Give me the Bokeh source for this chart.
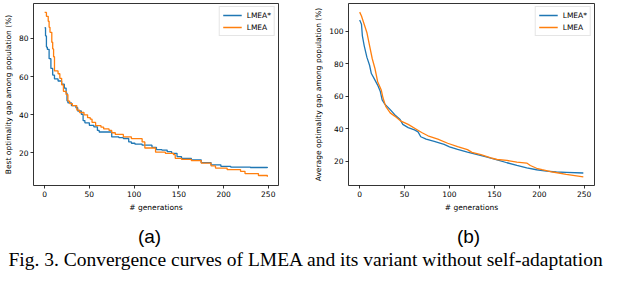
from bokeh.plotting import figure
from bokeh.layouts import column, row
from bokeh.models import Range1d, FixedTicker, Label
from bokeh.embed import file_html
from bokeh.resources import INLINE

# ---------------- data ----------------
series_names = ["LMEA*", "LMEA"]

# (a) best optimality gap (step curves)
gen_a_star = [0, 1, 2, 3, 5, 7, 9, 11, 15, 19, 22, 24, 25, 26, 30, 35, 37, 41, 43, 45,
              50, 55, 59, 61, 75, 83, 88, 94, 97, 101, 109, 120, 125, 131, 137, 142,
              148, 153, 164, 175, 186, 197, 208, 230, 249]
best_a_star = [85.6, 81.3, 75.5, 74.3, 69.4, 64.3, 60.8, 58.8, 57.7, 56.0, 54.0, 51.4,
               47.3, 46.3, 44.8, 43.7, 42.0, 40.3, 37.0, 35.8, 34.5, 33.7, 31.8, 31.0,
               28.4, 28.0, 27.6, 25.8, 25.1, 24.6, 24.1, 22.9, 21.8, 21.5, 20.7, 19.8,
               18.1, 17.2, 16.4, 15.0, 13.8, 13.0, 12.6, 12.4, 12.1]
gen_a_lmea = [0, 2, 4, 5, 6, 8, 9, 10, 11, 15, 17, 19, 21, 24, 26, 28, 31, 36, 39, 44,
              48, 51, 53, 57, 63, 66, 72, 75, 79, 88, 97, 109, 112, 124, 135, 144, 146,
              153, 164, 175, 186, 191, 204, 219, 224, 239, 249]
best_a_lmea = [93.6, 91.6, 89.0, 85.8, 83.2, 78.0, 74.5, 70.4, 63.0, 61.5, 59.1, 55.7,
               52.3, 50.6, 47.2, 45.9, 44.8, 42.5, 41.2, 40.0, 38.5, 37.7, 36.0, 34.3,
               33.5, 32.6, 31.8, 30.6, 29.7, 28.4, 27.5, 25.8, 22.6, 20.4, 19.8, 19.1,
               17.2, 16.7, 16.0, 14.7, 13.3, 12.1, 11.3, 10.4, 9.2, 8.2, 7.5]

# (b) average optimality gap
gen_b_star = [0, 2, 3, 5, 8, 11, 13, 16, 20, 23, 25, 28, 34, 39, 45, 48, 54, 61, 65, 68,
              74, 83, 94, 100, 109, 120, 131, 142, 153, 164, 175, 186, 197, 208, 219,
              230, 249]
avg_b_star = [107.0, 104.4, 97.3, 91.3, 84.2, 79.2, 74.1, 71.1, 67.0, 63.0, 57.9, 55.3,
              51.9, 48.8, 45.8, 42.8, 40.8, 39.4, 38.2, 35.2, 33.7, 32.3, 30.5, 29.0,
              27.5, 25.8, 24.2, 22.6, 21.0, 19.2, 17.6, 16.1, 14.9, 14.1, 13.5, 13.3, 12.9]
gen_b_lmea = [0, 2, 5, 8, 11, 14, 17, 20, 24, 26, 29, 34, 39, 46, 54, 63, 69, 76, 87,
              98, 109, 120, 125, 135, 146, 153, 164, 175, 186, 190, 197, 203, 215, 230, 249]
avg_b_lmea = [111.9, 109.5, 104.4, 99.4, 91.3, 83.2, 77.2, 69.1, 64.0, 59.0, 53.9, 49.9,
              47.9, 44.8, 42.8, 39.8, 37.8, 35.8, 33.7, 31.2, 29.1, 27.3, 25.6, 24.2,
              22.2, 21.2, 20.6, 19.6, 19.0, 17.5, 15.8, 14.9, 13.5, 12.1, 10.5]

x_ticks = [0, 50, 100, 150, 200, 250]
y_ticks_a = [20, 40, 60, 80]
y_ticks_b = [20, 40, 60, 80, 100]
x_label = "# generations"
y_label_a = "Best optimality gap among population (%)"
y_label_b = "Average optimality gap among population (%)"
sub_labels = ["(a)", "(b)"]
caption = "Fig. 3.  Convergence curves of LMEA and its variant without self-adaptation"

BLUE = "#1f77b4"
ORANGE = "#ff7f0e"
FONT = "DejaVu Sans"
FS = "7.5px"


def make_panel(width, bl, br, yr, yticks, ylabel, xs, ys, step):
    p = figure(width=width, height=214, output_backend="svg", toolbar_location=None,
               title=None,
               x_range=Range1d(-12.45, 261.45), y_range=Range1d(*yr),
               min_border_left=bl, min_border_right=br, min_border_top=3,
               min_border_bottom=28)
    p.grid.visible = False
    p.outline_line_color = "black"
    p.outline_line_width = 0.8
    p.outline_line_alpha = 1.0
    for ax in (p.xaxis[0], p.yaxis[0]):
        ax.axis_line_color = None
        ax.major_tick_in = 0
        ax.major_tick_out = 3
        ax.major_tick_line_width = 0.8
        ax.major_tick_line_color = "black"
        ax.minor_tick_line_color = None
        ax.major_label_text_font = FONT
        ax.major_label_text_font_size = FS
        ax.major_label_text_color = "black"
        ax.axis_label_text_font = FONT
        ax.axis_label_text_font_size = FS
        ax.axis_label_text_font_style = "normal"
        ax.axis_label_text_color = "black"
        ax.major_label_standoff = 2
        ax.axis_label_standoff = 3
    p.xaxis.ticker = FixedTicker(ticks=x_ticks)
    p.yaxis.ticker = FixedTicker(ticks=yticks)
    p.xaxis.axis_label = x_label
    p.yaxis.axis_label = ylabel
    colors = [BLUE, ORANGE]
    for x, y, c, name in zip(xs, ys, colors, series_names):
        if step:
            p.step(x, y, mode="after", line_color=c, line_width=1.3, legend_label=name)
        else:
            p.line(x, y, line_color=c, line_width=1.3, legend_label=name)
    lg = p.legend[0]
    lg.location = "top_right"
    lg.margin = 3
    lg.padding = 3
    lg.spacing = 2
    lg.glyph_width = 19
    lg.glyph_height = 10
    lg.label_height = 10
    lg.label_standoff = 5
    lg.label_text_font = FONT
    lg.label_text_font_size = FS
    lg.label_text_color = "black"
    lg.border_line_color = "#cccccc"
    lg.border_line_width = 0.8
    lg.background_fill_alpha = 0.8
    return p


p1 = make_panel(308, 32, 30, (2.97, 98.3), y_ticks_a, y_label_a,
                [gen_a_star, gen_a_lmea], [best_a_star, best_a_lmea], True)
p2 = make_panel(308, 40, 22, (5.2, 117.2), y_ticks_b, y_label_b,
                [gen_b_star, gen_b_lmea], [avg_b_star, avg_b_lmea], False)

cap = figure(width=616, height=58, output_backend="svg", toolbar_location=None,
             title=None,
             x_range=Range1d(0, 616), y_range=Range1d(0, 58),
             x_axis_location=None, y_axis_location=None, min_border=0)
cap.grid.visible = False
cap.outline_line_color = None
for xpos, t in zip([149, 468], sub_labels):
    cap.add_layout(Label(x=xpos, y=36, text=t, text_font="Liberation Sans",
                         text_font_size="19px", text_align="center",
                         text_baseline="middle", text_color="black"))
cap.add_layout(Label(x=308, y=13, text=caption, text_font="Liberation Serif",
                     text_font_size="19.5px", text_align="center",
                     text_baseline="alphabetic", text_color="black"))

layout = column(row(p1, p2), cap)
open("out.html", "w").write(file_html(layout, INLINE))
